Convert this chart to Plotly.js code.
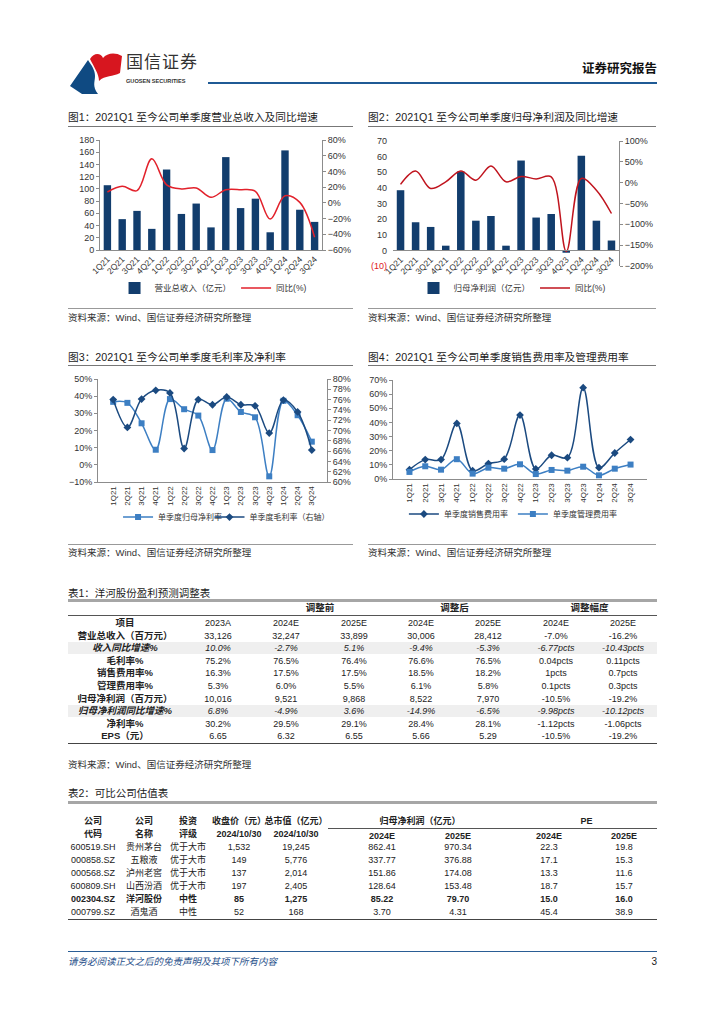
<!DOCTYPE html>
<html><head><meta charset="utf-8">
<script src="https://cdn.plot.ly/plotly-3.0.1.min.js"></script>
<style>
body{margin:0;width:724px;height:1024px;position:relative;background:#fff;font-family:"Liberation Sans","Noto Sans CJK SC",sans-serif;color:#222;overflow:hidden}
.chart{position:absolute}
.t{position:absolute;white-space:nowrap}
.ln{position:absolute;height:0}
</style></head><body>
<svg style="position:absolute;left:68px;top:49px" width="60" height="48" viewBox="0 0 60 46">
  <path d="M2,36 L20,10 C24,16 27,20 27,26 C27,32 24,36 30,44 L14,44 Z" fill="#0f4a82"/>
  <path d="M22,9 C26,2 33,3 35,8 C39,3 47,2 54,6 L52,23 C45,27 37,25 31,31 C31,24 26,17 22,9 Z" fill="#d7161f"/>
</svg>
<div id="c1" class="chart" style="left:62px;top:130px;width:295px;height:170px"></div>
<div id="c2" class="chart" style="left:362px;top:130px;width:300px;height:170px"></div>
<div id="c3" class="chart" style="left:62px;top:370px;width:295px;height:170px"></div>
<div id="c4" class="chart" style="left:362px;top:370px;width:300px;height:170px"></div>
<script>
// ---------- DATA ----------
const quarters = ['1Q21','2Q21','3Q21','4Q21','1Q22','2Q22','3Q22','4Q22','1Q23','2Q23','3Q23','4Q23','1Q24','2Q24','3Q24'];
const revenue = [106, 50.5, 64, 34.6, 131.7, 59, 76, 37, 152, 68.6, 84, 29, 163, 65.9, 46];
const revenueYoY = [13.8, 21, 15.5, 56, 23, 17.7, 19, 7, 16.8, 16.8, 14.7, -20.7, 9, 0.6, -43.7];
const netProfit = [38.5, 18, 15, 3, 50.5, 19, 22, 3, 57.5, 21, 23.3, -1.5, 60.5, 19, 6.3];
const netProfitYoY = [-4, 28, -14, 2, 28, 6, 40, 2, 15, 9, 14, -165, 10, -18, -74];
const netMargin = [36.7, 36.1, 24.2, 8.8, 38.3, 32.4, 28.7, 8.6, 38.5, 30.8, 27.7, -6.7, 37.3, 28.9, 13.5];
const grossMargin = [76.0, 70.6, 76.1, 77.8, 77.3, 66.5, 76.0, 75.0, 76.5, 75.0, 74.8, 69.5, 75.9, 73.6, 66.2];
const sellingRate = [6.6, 13.7, 13.7, 39.3, 5.9, 10.9, 14.0, 45.2, 7.1, 16.8, 15.1, 64.6, 8.0, 18.4, 27.9];
const adminRate = [5.0, 9.0, 6.6, 14.0, 3.8, 8.0, 7.3, 10.4, 3.5, 6.4, 5.9, 8.7, 2.6, 7.3, 10.2];

const t1Groups = ['调整前','调整后','调整幅度'];
const t1Cols = ['2023A','2024E','2025E','2024E','2025E','2024E','2025E'];
const t1Labels = ['营业总收入（百万元）','收入同比增速%','毛利率%','销售费用率%','管理费用率%','归母净利润（百万元）','归母净利润同比增速%','净利率%','EPS（元）'];
const t1Revenue = ['33,126','32,247','33,899','30,006','28,412','-7.0%','-16.2%'];
const t1RevYoY = ['10.0%','-2.7%','5.1%','-9.4%','-5.3%','-6.77pcts','-10.43pcts'];
const t1Gross = ['75.2%','76.5%','76.4%','76.6%','76.5%','0.04pcts','0.11pcts'];
const t1Selling = ['16.3%','17.5%','17.5%','18.5%','18.2%','1pcts','0.7pcts'];
const t1Admin = ['5.3%','6.0%','5.5%','6.1%','5.8%','0.1pcts','0.3pcts'];
const t1Profit = ['10,016','9,521','9,868','8,522','7,970','-10.5%','-19.2%'];
const t1ProfitYoY = ['6.8%','-4.9%','3.6%','-14.9%','-6.5%','-9.98pcts','-10.12pcts'];
const t1NetMargin = ['30.2%','29.5%','29.1%','28.4%','28.1%','-1.12pcts','-1.06pcts'];
const t1EPS = ['6.65','6.32','6.55','5.66','5.29','-10.5%','-19.2%'];

const t2Codes = ['600519.SH','000858.SZ','000568.SZ','600809.SH','002304.SZ','000799.SZ'];
const t2Names = ['贵州茅台','五粮液','泸州老窖','山西汾酒','洋河股份','酒鬼酒'];
const t2Ratings = ['优于大市','优于大市','优于大市','优于大市','中性','中性'];
const t2Price = ['1,532','149','137','197','85','52'];
const t2Mcap = ['19,245','5,776','2,014','2,405','1,275','168'];
const t2Profit24 = ['862.41','337.77','151.86','128.64','85.22','3.70'];
const t2Profit25 = ['970.34','376.88','174.08','153.48','79.70','4.31'];
const t2PE24 = ['22.3','17.1','13.3','18.7','15.0','45.4'];
const t2PE25 = ['19.8','15.3','11.6','15.7','16.0','38.9'];

// ---------- helpers ----------
function T(text, x, y, o) {
  o = o || {};
  const d = document.createElement('div');
  d.className = 't';
  d.textContent = text;
  const w = o.w || 140;
  const al = o.align || 'center';
  const left = al === 'left' ? x : (al === 'right' ? x - w : x - w / 2);
  d.style.left = left + 'px'; d.style.top = (y - 8) + 'px';
  d.style.width = w + 'px'; d.style.height = '16px'; d.style.lineHeight = '16px';
  d.style.textAlign = al;
  d.style.fontSize = (o.fs || 9) + 'px';
  d.style.fontWeight = o.b ? 'bold' : 'normal';
  d.style.fontStyle = o.i ? 'italic' : 'normal';
  d.style.color = o.c || '#222';
  if (o.ls) d.style.letterSpacing = o.ls + 'px';
  document.body.appendChild(d);
}
function L(x1, x2, y, th, col) {
  const d = document.createElement('div');
  d.className = 'ln';
  d.style.left = x1 + 'px'; d.style.top = y + 'px'; d.style.width = (x2 - x1) + 'px';
  d.style.borderTop = th + 'px solid ' + col;
  document.body.appendChild(d);
}
function R(x1, x2, y, h, col) {
  const d = document.createElement('div');
  d.style.position = 'absolute';
  d.style.left = x1 + 'px'; d.style.top = y + 'px'; d.style.width = (x2 - x1) + 'px'; d.style.height = h + 'px';
  d.style.background = col;
  document.body.appendChild(d);
}

// ---------- page header / footer ----------
T('国信证券', 126, 63, {align:'left', fs:17, c:'#333', ls:1});
T('GUOSEN SECURITIES', 126, 81, {align:'left', fs:5.6, c:'#333', b:true});
T('证券研究报告', 657, 69, {align:'right', fs:12.5, b:true, c:'#111'});
L(208, 657, 82, 2, '#1f5a95');
L(68, 657, 951, 1, '#2a5d95');
T('请务必阅读正文之后的免责声明及其项下所有内容', 68, 962, {align:'left', fs:9.5, i:true, c:'#1f4f8a', w:300});
T('3', 657, 962, {align:'right', fs:10, c:'#222', w:20});

// chart titles & rules
T('图1：2021Q1 至今公司单季度营业总收入及同比增速', 68, 117, {align:'left', fs:10.7, w:290});
T('图2：2021Q1 至今公司单季度归母净利润及同比增速', 368, 117, {align:'left', fs:10.7, w:290});
T('图3：2021Q1 至今公司单季度毛利率及净利率', 68, 357, {align:'left', fs:10.7, w:290});
T('图4：2021Q1 至今公司单季度销售费用率及管理费用率', 368, 357, {align:'left', fs:10.7, w:290});
L(68, 353, 126, 1.5, '#777'); L(368, 656, 126, 1.5, '#777');
L(68, 353, 365, 1.5, '#777'); L(368, 656, 365, 1.5, '#777');
L(68, 353, 308, 1.5, '#999'); L(368, 656, 308, 1.5, '#999');
L(68, 353, 544, 1.5, '#999'); L(368, 656, 544, 1.5, '#999');
const srcTxt = '资料来源：Wind、国信证券经济研究所整理';
T(srcTxt, 68, 318, {align:'left', fs:9.5, c:'#333', w:260});
T(srcTxt, 368, 318, {align:'left', fs:9.5, c:'#333', w:260});
T(srcTxt, 68, 553, {align:'left', fs:9.5, c:'#333', w:260});
T(srcTxt, 368, 553, {align:'left', fs:9.5, c:'#333', w:260});

// ---------- charts ----------
const FONT = '"Liberation Sans","Noto Sans CJK SC",sans-serif';
const NAVY = '#123d6d';
function axis(extra) {
  return Object.assign({showline:true, linecolor:'#8c8c8c', linewidth:1, ticks:'outside', ticklen:3,
    tickcolor:'#8c8c8c', showgrid:false, zeroline:false, automargin:false,
    tickfont:{size:9, color:'#333', family:FONT}}, extra);
}
function leg(x, y, xa, fs) {
  return {orientation:'h', xref:'container', yref:'container', x:x, xanchor:xa || 'center', y:y, yanchor:'middle',
    font:{size:fs || 8.5, color:'#333', family:FONT}, itemwidth:30, traceorder:'normal', bgcolor:'rgba(0,0,0,0)'};
}
function baseLayout(m, legend, extra) {
  return Object.assign({
    margin:m, paper_bgcolor:'rgba(0,0,0,0)', plot_bgcolor:'rgba(0,0,0,0)',
    font:{family:FONT, size:9, color:'#333'}, showlegend:true, legend:legend
  }, extra);
}
const cfg = {staticPlot:true, displayModeBar:false};

Plotly.newPlot('c1', [
  {type:'bar', x:quarters, y:revenue, name:'营业总收入（亿元）', marker:{color:NAVY}, width:0.5},
  {type:'scatter', mode:'lines', x:quarters, y:revenueYoY, name:'同比(%)', yaxis:'y2',
   line:{color:'#e2212b', width:1.5, shape:'spline', smoothing:1}}
], baseLayout({l:38, r:35, t:10, b:50}, leg(0.512, 0.07), {
  xaxis:axis({type:'category', tickangle:-45, ticks:'', tickfont:{size:8.5, color:'#333', family:FONT}}),
  yaxis:axis({range:[0,180], dtick:20}),
  yaxis2:axis({overlaying:'y', side:'right', range:[-60,80], dtick:20, ticksuffix:'%'})
}), cfg);

Plotly.newPlot('c2', [
  {type:'bar', x:quarters, y:netProfit, name:'归母净利润（亿元）', marker:{color:NAVY}, width:0.5},
  {type:'scatter', mode:'lines', x:quarters, y:netProfitYoY, name:'同比(%)', yaxis:'y2',
   line:{color:'#c0141e', width:1.5, shape:'spline', smoothing:1}}
], baseLayout({l:31, r:43, t:11, b:34}, leg(0.5, 0.07), {
  xaxis:axis({type:'category', tickangle:-45, ticks:'', anchor:'free', position:0.125,
    tickfont:{size:8.5, color:'#333', family:FONT}}),
  yaxis:axis({range:[-10,70], tickvals:[-10,0,10,20,30,40,50,60,70], ticklabelstandoff:5,
    ticktext:['<span style="color:#e0201e">(10)</span>','0','10','20','30','40','50','60','70'], showline:false, ticks:''}),
  yaxis2:axis({overlaying:'y', side:'right', range:[-200,100], dtick:50, ticksuffix:'%'})
}), cfg);

Plotly.newPlot('c3', [
  {type:'scatter', mode:'lines+markers', x:quarters, y:netMargin, name:'单季度归母净利率', legend:'legend',
   line:{color:'#3d7fc3', width:1.5, shape:'spline', smoothing:1}, marker:{symbol:'square', size:6, color:'#3d7fc3'}},
  {type:'scatter', mode:'lines+markers', x:quarters, y:grossMargin, name:'单季度毛利率（右轴）', yaxis:'y2', legend:'legend2',
   line:{color:'#1b4a80', width:1.5, shape:'spline', smoothing:1}, marker:{symbol:'diamond', size:6, color:'#1b4a80'}}
], baseLayout({l:36, r:30, t:9, b:58}, leg(0.19, 0.135, 'left', 8), {
  legend2:leg(0.5, 0.135, 'left', 8),
  xaxis:axis({type:'category', tickangle:-90, ticks:'', tickfont:{size:8, color:'#333', family:FONT}}),
  yaxis:axis({range:[-10,50], dtick:10, ticksuffix:'%'}),
  yaxis2:axis({overlaying:'y', side:'right', range:[60,80], dtick:2, ticksuffix:'%'})
}), cfg);

Plotly.newPlot('c4', [
  {type:'scatter', mode:'lines+markers', x:quarters, y:sellingRate, name:'单季度销售费用率',
   line:{color:'#1b4a80', width:1.5, shape:'spline', smoothing:1}, marker:{symbol:'diamond', size:6, color:'#1b4a80'}},
  {type:'scatter', mode:'lines+markers', x:quarters, y:adminRate, name:'单季度管理费用率',
   line:{color:'#3d7fc3', width:1.5, shape:'spline', smoothing:1}, marker:{symbol:'square', size:6, color:'#3d7fc3'}}
], baseLayout({l:31, r:15, t:10, b:61}, leg(0.503, 0.153, 'center', 8), {
  xaxis:axis({type:'category', tickangle:-90, ticks:'', tickfont:{size:8, color:'#333', family:FONT}}),
  yaxis:axis({range:[0,70], dtick:10, ticksuffix:'%'})
}), cfg);

// ---------- Table 1 ----------
T('表1：洋河股份盈利预测调整表', 68, 593, {align:'left', fs:10.5, w:250});
const t1X = [218, 286, 354, 421, 488, 556, 623];
const t1LabelX = 125;
const t1Y0 = 623, t1Step = 12.6;
const t1Rows = [t1Revenue, t1RevYoY, t1Gross, t1Selling, t1Admin, t1Profit, t1ProfitYoY, t1NetMargin, t1EPS];
const italicRows = [1, 6];
italicRows.forEach(r => R(68, 657, t1Y0 + (r + 1) * t1Step - 6.3, 12.6, '#efefef'));
L(68, 657, 599, 3, '#a6a6a6');
L(68, 657, 615, 1, '#555');
T(t1Groups[0], (t1X[1] + t1X[2]) / 2, 608, {b:true, fs:9.5});
T(t1Groups[1], (t1X[3] + t1X[4]) / 2, 608, {b:true, fs:9.5});
T(t1Groups[2], (t1X[5] + t1X[6]) / 2, 608, {b:true, fs:9.5});
T('项目', t1LabelX, t1Y0, {b:true, fs:9.5});
t1Cols.forEach((c, j) => T(c, t1X[j], t1Y0, {fs:9}));
t1Labels.forEach((lab, i) => {
  const y = t1Y0 + (i + 1) * t1Step;
  const it = italicRows.indexOf(i) >= 0;
  T(lab, t1LabelX, y, {b:true, i:it, fs:9.5});
  t1Rows[i].forEach((v, j) => T(v, t1X[j], y, {i:it, fs:9}));
});
L(68, 657, 743, 1.5, '#444');
T(srcTxt, 68, 765, {align:'left', fs:9.5, c:'#333', w:260});

// ---------- Table 2 ----------
T('表2：可比公司估值表', 68, 793, {align:'left', fs:10.5, w:250});
L(68, 657, 801, 3, '#a6a6a6');
const t2X = [93, 144, 188, 239, 296, 382, 458, 549, 624];
const h1 = ['公司','公司','投资','收盘价（元）','总市值（亿元）'];
const h2 = ['代码','名称','评级','2024/10/30','2024/10/30'];
h1.forEach((h, j) => T(h, t2X[j], 821, {b:true, fs:9}));
h2.forEach((h, j) => T(h, t2X[j], 834, {b:true, fs:9}));
T('归母净利润（亿元）', (t2X[5] + t2X[6]) / 2, 821, {b:true, fs:9});
T('PE', (t2X[7] + t2X[8]) / 2, 821, {b:true, fs:9});
L(328, 657, 828, 1, '#555');
['2024E','2025E','2024E','2025E'].forEach((h, j) => T(h, t2X[5 + j], 836, {b:true, fs:9}));
const t2Cols = [t2Codes, t2Names, t2Ratings, t2Price, t2Mcap, t2Profit24, t2Profit25, t2PE24, t2PE25];
for (let i = 0; i < t2Codes.length; i++) {
  const y = 847 + i * 13;
  const bold = t2Codes[i] === '002304.SZ';
  t2Cols.forEach((col, j) => T(col[i], t2X[j], y, {b:bold, fs:9}));
}
L(68, 657, 919, 1.5, '#444');
</script>
</body></html>
